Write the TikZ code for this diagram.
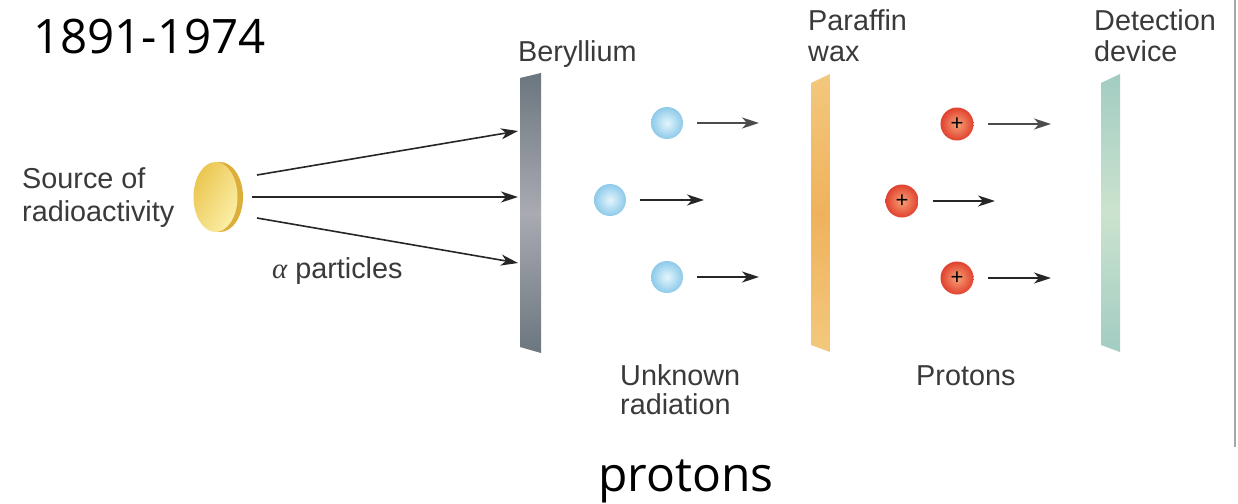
\documentclass[tikz,border=0pt]{standalone}
\usepackage{fontspec}
\setmainfont{Liberation Sans}
\newfontfamily\opensans{Open Sans}
\newfontfamily\greekserif{Liberation Serif}
\usetikzlibrary{arrows.meta}
\definecolor{labelgray}{HTML}{3A3A3A}
\definecolor{coinedge}{HTML}{DDAE3A}
\definecolor{coinlight}{HTML}{FBEFA8}
\definecolor{coindark}{HTML}{EBC650}
\definecolor{beryA}{HTML}{6B767E}
\definecolor{beryB}{HTML}{A9AAB2}
\definecolor{parA}{HTML}{F3C87C}
\definecolor{parB}{HTML}{EFB25C}
\definecolor{detA}{HTML}{A2CCC2}
\definecolor{detB}{HTML}{CBE3CE}
\definecolor{neuIn}{HTML}{E4F5FC}
\definecolor{neuOut}{HTML}{8DCAEA}
\definecolor{proIn}{HTML}{F7A276}
\definecolor{proOut}{HTML}{E0412E}
\begin{document}
\begin{tikzpicture}[x=1pt,y=-1pt,
  lbl/.style={anchor=base west, inner sep=0pt, font=\fontsize{28.8}{34}\selectfont, text=labelgray},
  big/.style={anchor=base west, inner sep=0pt, font=\opensans\fontsize{47.5}{56}\selectfont, text=black},
  arr/.style={line width=1.6pt, draw=black!85, -{Stealth[length=17pt,width=11pt,inset=5pt]}},
  neutron/.style={circle, inner sep=0pt, minimum size=32pt, inner color=neuIn, outer color=neuOut},
  proton/.style={circle, inner sep=0pt, minimum size=33pt, inner color=proIn, outer color=proOut,
    font=\fontsize{22}{22}\selectfont, text=black}]
\useasboundingbox (0,0) rectangle (1238,503);
\fill[white] (0,0) rectangle (1238,503);
\draw[black!35, line width=1.5pt] (1235,0) -- (1235,447);

% titles
\node[big] (years) at (33,53) {1891-1974};
\node[big, font=\opensans\fontsize{48}{56}\selectfont] (prot) at (598,491) {protons};

% labels
\node[lbl] (src1) at (22,188) {Source of};
\node[lbl] (src2) at (22,221) {radioactivity};
\node[lbl] (alpha) at (272,278) {{\greekserif\itshape α} particles};
\node[lbl] (bery) at (518,62) {Beryllium};
\node[lbl] (par1) at (808,31) {Paraffin};
\node[lbl] (par2) at (808,61) {wax};
\node[lbl] (det1) at (1094,31) {Detection};
\node[lbl] (det2) at (1094,62) {device};
\node[lbl] (unk1) at (620,385) {Unknown};
\node[lbl] (unk2) at (620,414) {radiation};
\node[lbl] (protl) at (916,385) {Protons};

% source coin
\fill[coinedge] (220,197) ellipse [x radius=23, y radius=35];
\shade[left color=coindark, right color=coinlight, shading angle=60] (215.5,197) ellipse [x radius=22, y radius=35];
\node[circle, minimum size=70pt, inner sep=0pt] (coin) at (217,197) {};

% plates
\shade[top color=beryA, bottom color=beryA, middle color=beryB] (520,78) -- (541,73) -- (541,353) -- (520,347) -- cycle;
\shade[top color=parA, bottom color=parA, middle color=parB] (811,83) -- (830,74) -- (830,352) -- (811,345) -- cycle;
\shade[top color=detA, bottom color=detA, middle color=detB] (1101,83) -- (1120,74) -- (1120,352) -- (1101,345) -- cycle;

\coordinate (b1) at (518,131);
\coordinate (b2) at (518,197);
\coordinate (b3) at (518,263);
\coordinate (s1) at (257,175);
\coordinate (s2) at (252,197);
\coordinate (s3) at (257,218);
\draw[arr] (s1) -- (b1);
\draw[arr] (s2) -- (b2);
\draw[arr] (s3) -- (b3);

% neutrons
\node[neutron] (n1) at (667,123) {};
\node[neutron] (n2) at (610,200) {};
\node[neutron] (n3) at (667,277) {};
\coordinate (ne1) at (759,123);
\coordinate (ne2) at (704,200);
\coordinate (ne3) at (759,277);
\draw[arr, draw=black!70] ([xshift=14pt]n1.east) -- (ne1);
\draw[arr] ([xshift=14pt]n2.east) -- (ne2);
\draw[arr] ([xshift=14pt]n3.east) -- (ne3);

% protons
\node[proton] (p1) at (957,124) {+};
\node[proton] (p2) at (902,201) {+};
\node[proton] (p3) at (957,278) {+};
\coordinate (pe1) at (1051,124);
\coordinate (pe2) at (995,201);
\coordinate (pe3) at (1051,278);
\draw[arr, draw=black!70] ([xshift=14pt]p1.east) -- (pe1);
\draw[arr] ([xshift=14pt]p2.east) -- (pe2);
\draw[arr] ([xshift=14pt]p3.east) -- (pe3);
\end{tikzpicture}
\end{document}
